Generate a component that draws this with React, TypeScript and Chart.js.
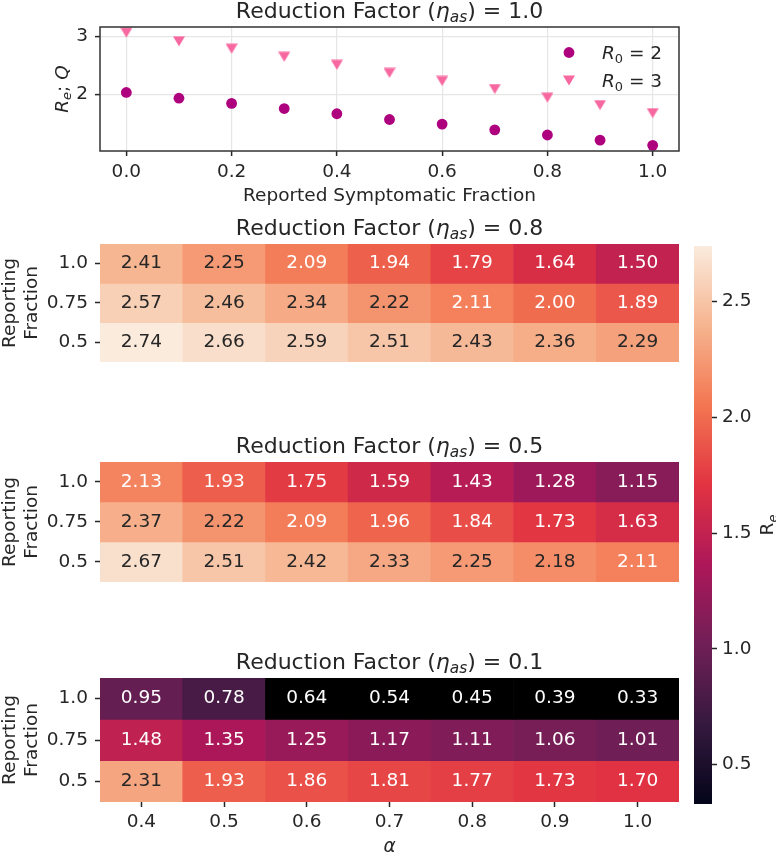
import React, { useEffect, useRef } from 'react';
import { Chart, registerables } from 'chart.js';

Chart.register(...registerables);

const FONT = '"DejaVu Sans"';
const INK = '#262626';
const TXT = 18.5;
const TITLE = 22;

// ---------- Top panel: reduction factor eta_as = 1.0 ----------
const symptomaticFraction = [0, 0.1, 0.2, 0.3, 0.4, 0.5, 0.6, 0.7, 0.8, 0.9, 1.0];
const reR0Two = [2.03, 1.93, 1.84, 1.75, 1.66, 1.56, 1.48, 1.38, 1.29, 1.2, 1.11];
const reR0Three = [3.07, 2.92, 2.79, 2.65, 2.51, 2.37, 2.23, 2.09, 1.94, 1.81, 1.67];
const scatterXTicks = [0, 0.2, 0.4, 0.6, 0.8, 1.0];
const scatterYTicks = [2, 3];

// ---------- Heatmaps ----------
const alphaLabels = ['0.4', '0.5', '0.6', '0.7', '0.8', '0.9', '1.0'];
const reportingLabels = ['1.0', '0.75', '0.5'];
const reEta08 = [
  [2.41, 2.25, 2.09, 1.94, 1.79, 1.64, 1.5],
  [2.57, 2.46, 2.34, 2.22, 2.11, 2.0, 1.89],
  [2.74, 2.66, 2.59, 2.51, 2.43, 2.36, 2.29],
];
const reEta05 = [
  [2.13, 1.93, 1.75, 1.59, 1.43, 1.28, 1.15],
  [2.37, 2.22, 2.09, 1.96, 1.84, 1.73, 1.63],
  [2.67, 2.51, 2.42, 2.33, 2.25, 2.18, 2.11],
];
const reEta01 = [
  [0.95, 0.78, 0.64, 0.54, 0.45, 0.39, 0.33],
  [1.48, 1.35, 1.25, 1.17, 1.11, 1.06, 1.01],
  [2.31, 1.93, 1.86, 1.81, 1.77, 1.73, 1.7],
];
const colorbarTicks = [0.5, 1.0, 1.5, 2.0, 2.5];
const reMin = 0.33;
const reMax = 2.74;

// ---------- colour map (seaborn "rocket") ----------
const ROCKET: [number, string][] = [
  [0, '#03051a'],
  [1 / 7, '#35193e'],
  [2 / 7, '#701f57'],
  [3 / 7, '#ad1759'],
  [4 / 7, '#e13342'],
  [5 / 7, '#f37651'],
  [6 / 7, '#f6b48f'],
  [1, '#faebdd'],
];
const UNDER_LIMIT = 0.7;
const UNDER_COLOR = '#000000';
const DARK_TEXT_LUMINANCE = 0.38;

function hexToRgb(h: string) {
  const n = parseInt(h.slice(1), 16);
  return [(n >> 16) & 255, (n >> 8) & 255, n & 255];
}
function rocketRgb(t: number) {
  t = Math.max(0, Math.min(1, t));
  for (let i = 1; i < ROCKET.length; i++) {
    if (t <= ROCKET[i][0]) {
      const [t0, c0] = ROCKET[i - 1];
      const [t1, c1] = ROCKET[i];
      const f = (t - t0) / (t1 - t0);
      const a = hexToRgb(c0);
      const b = hexToRgb(c1);
      return a.map((v, k) => Math.round(v + (b[k] - v) * f));
    }
  }
  return hexToRgb(ROCKET[ROCKET.length - 1][1]);
}
function cellRgb(v: number) {
  if (v < UNDER_LIMIT) return hexToRgb(UNDER_COLOR);
  return rocketRgb((v - reMin) / (reMax - reMin));
}
function cellColor(v: number) {
  const [r, g, b] = cellRgb(v);
  return `rgb(${r},${g},${b})`;
}
function textColorFor(v: number) {
  const lin = cellRgb(v).map((c) => {
    const s = c / 255;
    return s <= 0.03928 ? s / 12.92 : Math.pow((s + 0.055) / 1.055, 2.4);
  });
  const lum = 0.2126 * lin[0] + 0.7152 * lin[1] + 0.0722 * lin[2];
  return lum > DARK_TEXT_LUMINANCE ? INK : '#ffffff';
}

// ---------- rich text (italic / subscript) ----------
type Seg = { t: string; it?: boolean; sub?: boolean };
function segFont(size: number, s: Seg) {
  const sz = s.sub ? size * 0.7 : size;
  return `${s.it ? 'italic ' : ''}${sz}px ${FONT}`;
}
function drawRich(
  ctx: CanvasRenderingContext2D,
  segs: Seg[],
  x: number,
  y: number,
  size: number,
  align: 'left' | 'center' = 'center',
  rotate = 0
) {
  ctx.save();
  ctx.translate(x, y);
  ctx.rotate(rotate);
  ctx.textBaseline = 'alphabetic';
  ctx.textAlign = 'left';
  ctx.fillStyle = INK;
  let total = 0;
  const widths = segs.map((s) => {
    ctx.font = segFont(size, s);
    const w = ctx.measureText(s.t).width;
    total += w;
    return w;
  });
  let cx = align === 'center' ? -total / 2 : 0;
  segs.forEach((s, i) => {
    ctx.font = segFont(size, s);
    ctx.fillText(s.t, cx, s.sub ? size * 0.2 : 0);
    cx += widths[i];
  });
  ctx.restore();
}

const titleSegs = (eta: string): Seg[] => [
  { t: 'Reduction Factor (' },
  { t: 'η', it: true },
  { t: 'as', it: true, sub: true },
  { t: ') = ' + eta },
];

function titlePlugin(eta: string) {
  return {
    id: 'panelTitle',
    afterDraw(chart: any) {
      const a = chart.chartArea;
      drawRich(chart.ctx, titleSegs(eta), (a.left + a.right) / 2, a.top - 9.5, TITLE);
    },
  };
}

const reportingYLabel = {
  id: 'reportingYLabel',
  afterDraw(chart: any) {
    const a = chart.chartArea;
    const cy = (a.top + a.bottom) / 2;
    drawRich(chart.ctx, [{ t: 'Reporting' }], a.left - 85.2, cy, TXT, 'center', -Math.PI / 2);
    drawRich(chart.ctx, [{ t: 'Fraction' }], a.left - 63.3, cy, TXT, 'center', -Math.PI / 2);
  },
};

const cellLabels = {
  id: 'cellLabels',
  afterDatasetsDraw(chart: any) {
    const ctx = chart.ctx;
    ctx.save();
    ctx.font = `${TXT}px ${FONT}`;
    ctx.textAlign = 'center';
    ctx.textBaseline = 'middle';
    chart.data.datasets.forEach((ds: any, i: number) => {
      const meta = chart.getDatasetMeta(i);
      meta.data.forEach((el: any, j: number) => {
        const p = el.getProps(['x', 'y', 'base'], true);
        const v = ds.values[j];
        ctx.fillStyle = textColorFor(v);
        ctx.fillText(v.toFixed(2), p.x, (p.y + p.base) / 2);
      });
    });
    ctx.restore();
  },
};

const tickFont = { family: FONT, size: TXT };

function heatmapConfig(matrix: number[][], eta: string, padding: any, showX: boolean) {
  const n = reportingLabels.length;
  const plugins: any[] = [cellLabels, titlePlugin(eta), reportingYLabel];
  if (showX) {
    plugins.push({
      id: 'alphaLabel',
      afterDraw(chart: any) {
        const a = chart.chartArea;
        drawRich(chart.ctx, [{ t: 'α', it: true }], (a.left + a.right) / 2, a.bottom + 49.5, TXT);
      },
    });
  }
  const xScale: any = {
    display: showX,
    grid: { offset: false, drawOnChartArea: false, drawTicks: true, tickLength: 5, tickColor: INK, tickWidth: 1.5 },
    border: { display: false },
    ticks: { font: tickFont, color: INK, padding: 4, maxRotation: 0, autoSkip: false },
  };
  if (showX) {
    xScale.afterFit = (s: any) => {
      s.height = 51;
    };
  }
  return {
    type: 'bar',
    data: {
      labels: alphaLabels,
      datasets: matrix.map((row, r) => ({
        label: 'Reporting fraction ' + reportingLabels[r],
        data: row.map(() => [n - 1 - r, n - r]),
        values: row,
        backgroundColor: row.map(cellColor),
        borderWidth: 0,
        barPercentage: 1,
        categoryPercentage: 1,
        grouped: false,
      })),
    },
    options: {
      animation: false,
      responsive: false,
      devicePixelRatio: 1,
      layout: { padding },
      plugins: { legend: { display: false }, tooltip: { enabled: false }, title: { display: false } },
      scales: {
        x: xScale,
        y: {
          type: 'linear',
          min: 0,
          max: n,
          afterBuildTicks: (s: any) => {
            s.ticks = reportingLabels.map((_, r) => ({ value: n - 1 - r + 0.5 }));
          },
          ticks: {
            font: tickFont,
            color: INK,
            padding: 7,
            autoSkip: false,
            callback: (v: any) => reportingLabels[n - 1 - Math.floor(Number(v))],
          },
          grid: { drawOnChartArea: false, drawTicks: true, tickLength: 5, tickColor: INK, tickWidth: 1.5 },
          border: { display: false },
          afterFit: (s: any) => {
            s.width = 100;
          },
        },
      },
    },
    plugins,
  };
}

function makeTriangle(color: string) {
  const c = document.createElement('canvas');
  c.width = 12;
  c.height = 11;
  const g = c.getContext('2d')!;
  g.fillStyle = color;
  g.beginPath();
  g.moveTo(0, 0.4);
  g.lineTo(12, 0.4);
  g.lineTo(6, 10.6);
  g.closePath();
  g.fill();
  return c;
}

const R0_TWO_COLOR = '#ae017e';
const R0_THREE_COLOR = '#f768a1';

export default function App() {
  const scatterRef = useRef<HTMLCanvasElement>(null);
  const hm1Ref = useRef<HTMLCanvasElement>(null);
  const hm2Ref = useRef<HTMLCanvasElement>(null);
  const hm3Ref = useRef<HTMLCanvasElement>(null);
  const cbRef = useRef<HTMLCanvasElement>(null);

  useEffect(() => {
    const charts: Chart[] = [];
    const tri = makeTriangle(R0_THREE_COLOR);

    const allY = [...reR0Two, ...reR0Three];
    const lo = Math.min(...allY);
    const hi = Math.max(...allY);
    const m = 0.05 * (hi - lo);

    const legendPlugin = {
      id: 'insideLegend',
      afterDraw(chart: any) {
        const a = chart.chartArea;
        const ctx = chart.ctx;
        const mx = a.right - 110;
        const rows = [
          { y: a.top + 25.5, n: '2' },
          { y: a.top + 53.5, n: '3' },
        ];
        rows.forEach((row, i) => {
          const ds = chart.data.datasets[i];
          if (i === 0) {
            ctx.save();
            ctx.fillStyle = ds.backgroundColor;
            ctx.beginPath();
            ctx.arc(mx, row.y, 5.4, 0, Math.PI * 2);
            ctx.fill();
            ctx.restore();
          } else {
            ctx.drawImage(ds.pointStyle, mx - 6, row.y - 5.5);
          }
          drawRich(
            ctx,
            [{ t: 'R', it: true }, { t: '0', sub: true }, { t: ' = ' + row.n }],
            a.right - 77,
            row.y + 6.7,
            TXT,
            'left'
          );
        });
      },
    };
    const framePlugin = {
      id: 'frame',
      afterDraw(chart: any) {
        const a = chart.chartArea;
        const ctx = chart.ctx;
        ctx.save();
        ctx.strokeStyle = '#333333';
        ctx.lineWidth = 1.5;
        ctx.strokeRect(a.left, a.top, a.right - a.left, a.bottom - a.top);
        ctx.restore();
      },
    };
    const scatterLabels = {
      id: 'scatterLabels',
      afterDraw(chart: any) {
        const a = chart.chartArea;
        drawRich(chart.ctx, [{ t: 'Reported Symptomatic Fraction' }], (a.left + a.right) / 2, a.bottom + 50, TXT);
        drawRich(
          chart.ctx,
          [{ t: 'R', it: true }, { t: 'e', it: true, sub: true }, { t: '; ' }, { t: 'Q', it: true }],
          a.left - 32.5,
          (a.top + a.bottom) / 2,
          TXT,
          'center',
          -Math.PI / 2
        );
      },
    };

    charts.push(
      new Chart(scatterRef.current!, {
        type: 'scatter',
        data: {
          datasets: [
            {
              label: 'R0 = 2',
              data: symptomaticFraction.map((x, i) => ({ x, y: reR0Two[i] })),
              pointStyle: 'circle',
              pointRadius: 5.4,
              backgroundColor: R0_TWO_COLOR,
              borderWidth: 0,
            },
            {
              label: 'R0 = 3',
              data: symptomaticFraction.map((x, i) => ({ x, y: reR0Three[i] })),
              pointStyle: tri,
              pointRadius: 6,
              backgroundColor: R0_THREE_COLOR,
              borderWidth: 0,
            },
          ],
        },
        options: {
          animation: false,
          responsive: false,
          devicePixelRatio: 1,
          layout: { padding: { top: 27, left: 0, right: 97, bottom: 0 } },
          plugins: { legend: { display: false }, tooltip: { enabled: false }, title: { display: false } },
          scales: {
            x: {
              type: 'linear',
              min: -0.05,
              max: 1.05,
              afterBuildTicks: (s: any) => {
                s.ticks = scatterXTicks.map((v) => ({ value: v }));
              },
              afterFit: (s: any) => {
                s.height = 54;
              },
              ticks: {
                font: tickFont,
                color: INK,
                padding: 5,
                maxRotation: 0,
                autoSkip: false,
                callback: (v: any) => Number(v).toFixed(1),
              },
              grid: { color: '#e6e6e6', lineWidth: 1.2, drawTicks: true, tickLength: 5, tickColor: INK, tickWidth: 1.5 },
              border: { display: false },
            },
            y: {
              type: 'linear',
              min: lo - m,
              max: hi + m,
              afterBuildTicks: (s: any) => {
                s.ticks = scatterYTicks.map((v) => ({ value: v }));
              },
              afterFit: (s: any) => {
                s.width = 100;
              },
              ticks: { font: tickFont, color: INK, padding: 7, autoSkip: false, callback: (v: any) => String(v) },
              grid: { color: '#e6e6e6', lineWidth: 1.2, drawTicks: true, tickLength: 5, tickColor: INK, tickWidth: 1.5 },
              border: { display: false },
            },
          },
        } as any,
        plugins: [framePlugin, legendPlugin, titlePlugin('1.0'), scatterLabels],
      } as any)
    );

    charts.push(new Chart(hm1Ref.current!, heatmapConfig(reEta08, '0.8', { top: 34, left: 0, right: 97, bottom: 12 }, false) as any));
    charts.push(new Chart(hm2Ref.current!, heatmapConfig(reEta05, '0.5', { top: 32, left: 0, right: 97, bottom: 14 }, false) as any));
    charts.push(new Chart(hm3Ref.current!, heatmapConfig(reEta01, '0.1', { top: 38, left: 0, right: 97, bottom: 0 }, true) as any));

    const cbLabel = {
      id: 'cbLabel',
      afterDraw(chart: any) {
        const a = chart.chartArea;
        drawRich(
          chart.ctx,
          [{ t: 'R' }, { t: 'e', it: true, sub: true }],
          a.right + 61,
          (a.top + a.bottom) / 2,
          TXT,
          'center',
          -Math.PI / 2
        );
      },
    };

    charts.push(
      new Chart(cbRef.current!, {
        type: 'bar',
        data: {
          labels: ['R_e'],
          datasets: [
            {
              label: 'colour scale',
              data: [[reMin, reMax]],
              borderWidth: 0,
              barPercentage: 1,
              categoryPercentage: 1,
              backgroundColor: (c: any) => {
                const chart = c.chart;
                if (!chart.chartArea) return '#000';
                const ys = chart.scales.y;
                const g = chart.ctx.createLinearGradient(0, ys.getPixelForValue(reMin), 0, ys.getPixelForValue(reMax));
                ROCKET.forEach(([t, col]) => g.addColorStop(t, col));
                return g;
              },
            },
          ],
        },
        options: {
          animation: false,
          responsive: false,
          devicePixelRatio: 1,
          layout: { padding: { top: 13, left: 14, right: 0, bottom: 26 } },
          plugins: { legend: { display: false }, tooltip: { enabled: false }, title: { display: false } },
          scales: {
            x: { display: false },
            y: {
              type: 'linear',
              position: 'right',
              min: reMin,
              max: reMax,
              afterBuildTicks: (s: any) => {
                s.ticks = colorbarTicks.map((v) => ({ value: v }));
              },
              afterFit: (s: any) => {
                s.width = 64;
              },
              ticks: { font: tickFont, color: INK, padding: 5, autoSkip: false, callback: (v: any) => Number(v).toFixed(1) },
              grid: { drawOnChartArea: false, drawTicks: true, tickLength: 5, tickColor: INK, tickWidth: 1.5 },
              border: { display: false },
            },
          },
        } as any,
        plugins: [cbLabel],
      } as any)
    );

    return () => charts.forEach((c) => c.destroy());
  }, []);

  const abs = (left: number, top: number): React.CSSProperties => ({
    position: 'absolute',
    left,
    top,
    display: 'block',
  });

  return (
    <div style={{ position: 'absolute', left: 0, top: 0, width: 776, height: 853, background: '#ffffff', overflow: 'hidden' }}>
      <canvas ref={scatterRef} width={776} height={205} style={abs(0, 0)} />
      <canvas ref={hm1Ref} width={776} height={170} style={abs(0, 210)} />
      <canvas ref={hm2Ref} width={776} height={170} style={abs(0, 430)} />
      <canvas ref={hm3Ref} width={776} height={213} style={abs(0, 640)} />
      <canvas ref={cbRef} width={96} height={600} style={abs(680, 230)} />
    </div>
  );
}
